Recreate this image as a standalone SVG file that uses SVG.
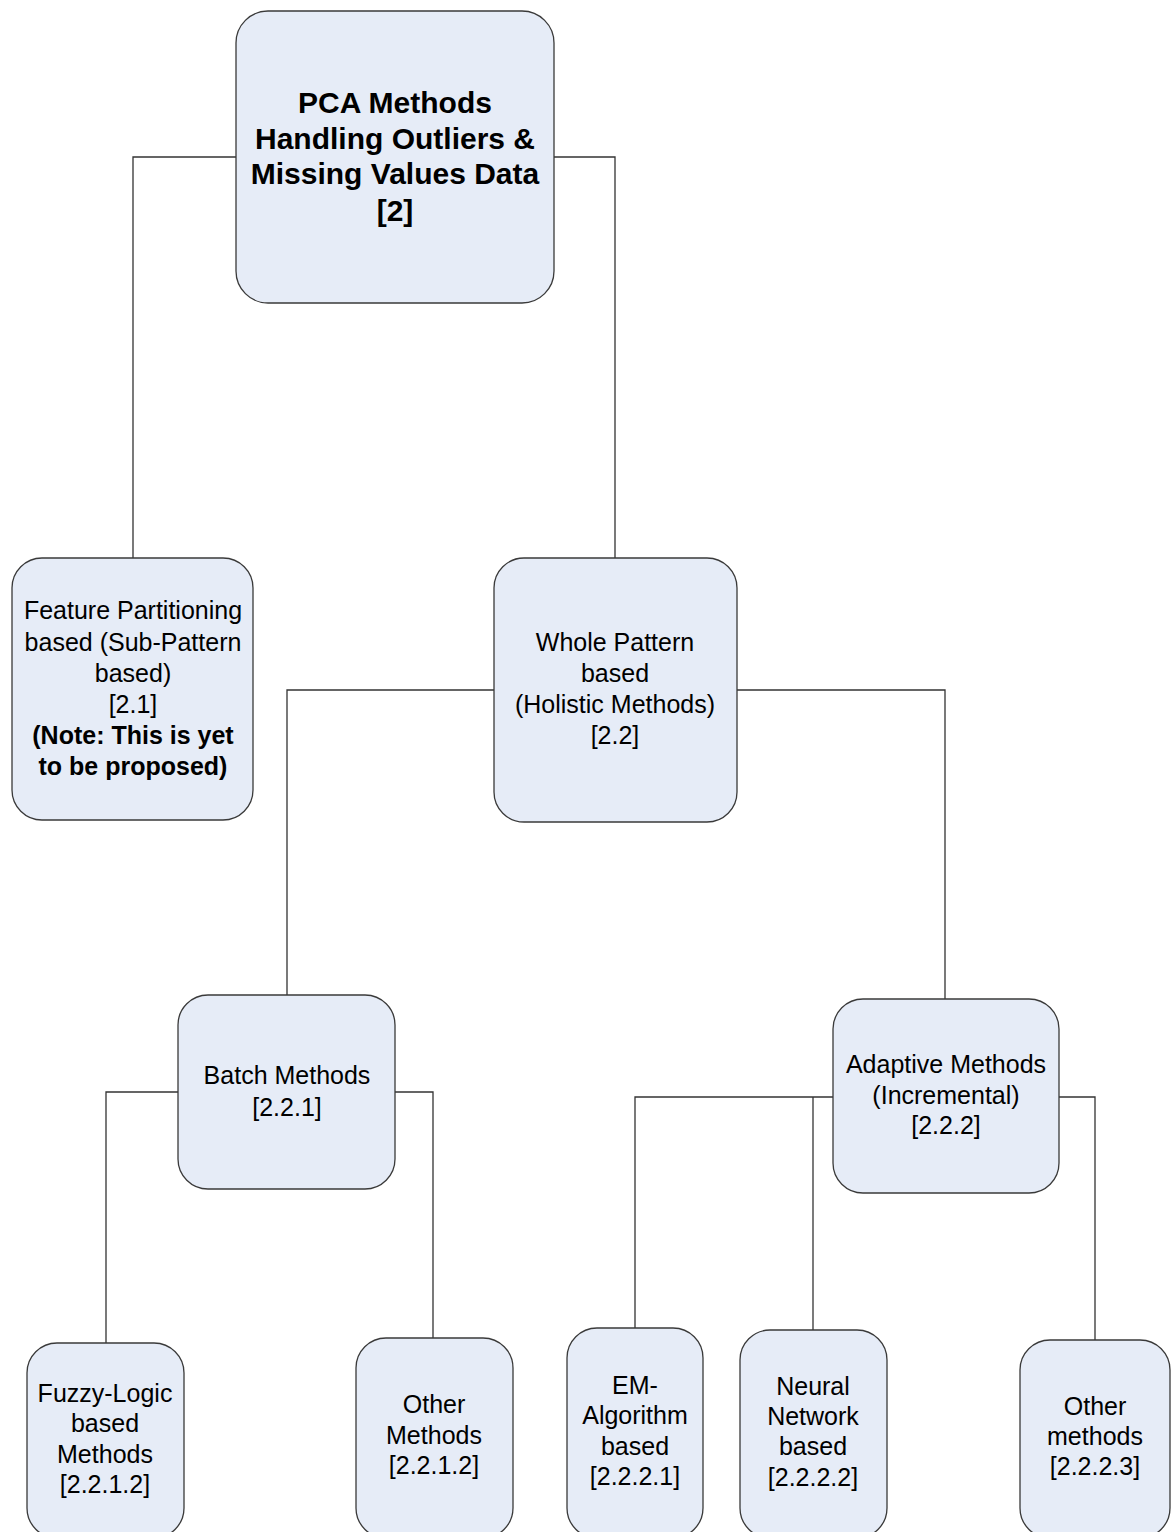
<svg xmlns="http://www.w3.org/2000/svg" width="1171" height="1532" viewBox="0 0 1171 1532">
  <style>
    .node rect { fill: #E6ECF7; stroke: #3A3A3A; stroke-width: 1.3; }
    .node text { font-family: "Liberation Sans", Arial, sans-serif; font-size: 25px; fill: #000; text-anchor: middle; }
    .node text.b { font-weight: bold; }
    .node text.title { font-weight: bold; font-size: 30px; }
    #connectors path { fill: none; stroke: #333; stroke-width: 1.3; }
  </style>
  <rect width="1171" height="1532" fill="#fff"/>

  <g id="connectors">
    <path d="M236,157 H133 V558"/>
    <path d="M554,157 H615 V558"/>
    <path d="M494,690 H287 V995"/>
    <path d="M737,690 H945 V1000"/>
    <path d="M178,1092 H106 V1343"/>
    <path d="M395,1092 H433 V1338"/>
    <path d="M833,1097 H635 V1328"/>
    <path d="M813,1097 V1330"/>
    <path d="M1059,1097 H1095 V1340"/>
  </g>

  <g id="n-root" class="node">
    <rect x="236" y="11" width="318" height="292" rx="32"/>
    <text class="title" x="395" y="113">PCA Methods</text>
    <text class="title" x="395" y="149">Handling Outliers &amp;</text>
    <text class="title" x="395" y="184">Missing Values Data</text>
    <text class="title" x="395" y="221">[2]</text>
  </g>

  <g id="n-2-1" class="node">
    <rect x="12" y="558" width="241" height="262" rx="30"/>
    <text x="133" y="619">Feature Partitioning</text>
    <text x="133" y="651">based (Sub-Pattern</text>
    <text x="133" y="682">based)</text>
    <text x="133" y="713">[2.1]</text>
    <text class="b" x="133" y="744">(Note: This is yet</text>
    <text class="b" x="133" y="775">to be proposed)</text>
  </g>

  <g id="n-2-2" class="node">
    <rect x="494" y="558" width="243" height="264" rx="30"/>
    <text x="615" y="651">Whole Pattern</text>
    <text x="615" y="682">based</text>
    <text x="615" y="713">(Holistic Methods)</text>
    <text x="615" y="744">[2.2]</text>
  </g>

  <g id="n-2-2-1" class="node">
    <rect x="178" y="995" width="217" height="194" rx="30"/>
    <text x="287" y="1084">Batch Methods</text>
    <text x="287" y="1116">[2.2.1]</text>
  </g>

  <g id="n-2-2-2" class="node">
    <rect x="833" y="999" width="226" height="194" rx="30"/>
    <text x="946" y="1073">Adaptive Methods</text>
    <text x="946" y="1104">(Incremental)</text>
    <text x="946" y="1134">[2.2.2]</text>
  </g>

  <g id="n-fuzzy" class="node">
    <rect x="27" y="1343" width="157" height="195" rx="30"/>
    <text x="105" y="1402">Fuzzy-Logic</text>
    <text x="105" y="1432">based</text>
    <text x="105" y="1463">Methods</text>
    <text x="105" y="1493">[2.2.1.2]</text>
  </g>

  <g id="n-batch-other" class="node">
    <rect x="356" y="1338" width="157" height="200" rx="30"/>
    <text x="434" y="1413">Other</text>
    <text x="434" y="1444">Methods</text>
    <text x="434" y="1474">[2.2.1.2]</text>
  </g>

  <g id="n-em" class="node">
    <rect x="567" y="1328" width="136" height="210" rx="30"/>
    <text x="635" y="1394">EM-</text>
    <text x="635" y="1424">Algorithm</text>
    <text x="635" y="1455">based</text>
    <text x="635" y="1485">[2.2.2.1]</text>
  </g>

  <g id="n-neural" class="node">
    <rect x="740" y="1330" width="147" height="208" rx="30"/>
    <text x="813" y="1395">Neural</text>
    <text x="813" y="1425">Network</text>
    <text x="813" y="1455">based</text>
    <text x="813" y="1486">[2.2.2.2]</text>
  </g>

  <g id="n-adaptive-other" class="node">
    <rect x="1020" y="1340" width="150" height="198" rx="30"/>
    <text x="1095" y="1415">Other</text>
    <text x="1095" y="1445">methods</text>
    <text x="1095" y="1475">[2.2.2.3]</text>
  </g>
</svg>
